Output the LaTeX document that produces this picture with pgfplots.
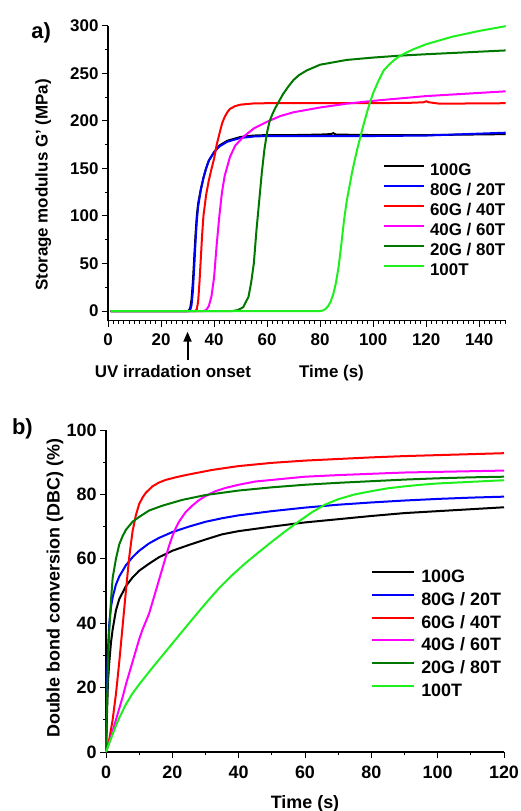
\documentclass[border=0pt]{standalone}
\usepackage{fontspec}
\setmainfont{Liberation Sans}
\usepackage{pgfplots}
\pgfplotsset{compat=1.18}
\usetikzlibrary{arrows.meta}
\definecolor{cblue}{RGB}{0,0,255}
\definecolor{cred}{RGB}{255,0,0}
\definecolor{cmag}{RGB}{255,0,255}
\definecolor{cdgreen}{RGB}{0,120,0}
\definecolor{clgreen}{RGB}{30,240,30}

\pgfplotsset{
  common/.style={
    scale only axis, clip=false,
    axis x line*=bottom, axis y line*=left,
    axis line style={line width=1.2bp},
    tick align=outside,
    major tick length=6bp, minor tick length=3bp,
    every tick/.style={line width=1bp, black},
    /pgf/number format/assume math mode=true,
    legend cell align=left,
    legend image code/.code={\draw[##1] (0bp,5.5bp) -- (40bp,5.5bp);},
    every axis plot/.append style={line width=2bp},
  },
}

\begin{document}
\begin{tikzpicture}
\path[use as bounding box] (0,0) rectangle (521bp,-811bp);

% panel a
\begin{axis}[common,
  at={(108bp,-320.7bp)}, anchor=south west,
  width=397.7bp, height=295bp,
  xmin=0, xmax=150, ymin=-10.2, ymax=300,
  xtick={0,20,...,140}, minor xtick={0,2,...,150},
  ytick={0,50,...,300}, minor ytick={25,75,...,275},
  ticklabel style={font=\fontsize{17}{19}\selectfont\bfseries},
  xticklabel style={yshift=-3bp},
  legend style={draw=none, fill=none, at={(0.691,0.5336)}, anchor=north west,
    inner sep=0pt, row sep=4bp, column sep=5bp,
    nodes={inner sep=0pt, text height=12.5bp, text depth=3.5bp},
    font=\fontsize{17}{19}\selectfont\bfseries},
]
\addplot[black] coordinates {(1,0)(29,0)(30,0)(30.5,0.5)(31,3)(31.5,12)(32,30)(32.5,55)(33,80)(33.5,100)(34,113)(35,128)(36,140)(37,150)(38,158)(40,167)(42,174)(45,179)(50,183)(55,184.5)(60,185)(70,185)(80,185.5)(84,186)(85,187)(86,185.5)(100,185)(120,185)(135,185.5)(150,186)};
\addplot[cblue] coordinates {(1,0)(30.5,0)(31,1)(31.5,6)(32,20)(32.5,45)(33,72)(33.5,95)(34,110)(35,127)(36,140)(37,150)(38,158)(40,167)(42,173)(45,178)(50,182)(55,183.5)(60,184)(80,184)(100,184)(120,184.5)(135,186)(150,187.5)};
\addplot[cred] coordinates {(1,0)(33,0)(33.5,2)(34,10)(34.5,30)(35,55)(35.5,80)(36,100)(37,122)(38,137)(39,149)(40,160)(41,175)(42,186)(43,197)(44,204)(45,209)(46,212.5)(48,215.5)(50,217)(55,218.3)(60,218.5)(80,218.5)(100,218.5)(115,219)(119,219.5)(120,220.5)(121,219.5)(125,218)(150,218.5)};
\addplot[cmag] coordinates {(1,0)(36,0)(37,1)(38,5)(39,15)(40,35)(41,70)(42,100)(43,125)(44,142)(46,162)(48,174)(51,183)(55,192)(60,199)(65,205)(70,209)(80,214)(90,218)(100,221)(120,226)(150,231)};
\addplot[cdgreen] coordinates {(1,0)(47,0)(49,1)(51,4)(53,15)(54,30)(55,50)(56,85)(57,115)(58,145)(59,170)(60,188)(61,200)(62,207)(63,213)(64,218)(65,223)(66,228)(68,236)(70,243)(72,248)(75,253)(80,259)(90,264)(100,266.5)(110,268.5)(120,270)(135,272)(150,274)};
\addplot[clgreen] coordinates {(1,0)(80,0)(81,0.5)(82,2)(83,5)(84,10)(85,18)(86,30)(87,47)(88,70)(89,95)(90,115)(91,130)(92,145)(93,158)(94,170)(95,181)(96,192)(97,202)(98,212)(99,221)(100,229)(102,242)(104,253)(106,259)(108,264)(110,268)(112,271)(115,275)(120,280.5)(125,284.5)(130,288.5)(135,291.5)(140,294.5)(145,297)(150,299.5)};
\legend{100G, 80G / 20T, 60G / 40T, 40G / 60T, 20G / 80T, 100T}
\node[font=\fontsize{17}{19}\selectfont\bfseries, anchor=base] at (axis cs:24.5,-69.4) {UV irradation onset};
\node[font=\fontsize{17}{19}\selectfont\bfseries, anchor=base] at (axis cs:84.3,-69.4) {Time (s)};
\draw[line width=2bp, -{Triangle[width=8bp,length=10bp]}] (axis cs:30,-51.5) -- (axis cs:30,-21.8);
\node[font=\fontsize{17}{19}\selectfont\bfseries, rotate=90] at (axis description cs:-0.163,0.46) {Storage modulus G' (MPa)};
\node[font=\fontsize{22}{24}\selectfont\bfseries] at (axis description cs:-0.168,0.975) {a)};
\end{axis}

% panel b
\begin{axis}[common,
  at={(106bp,-752bp)}, anchor=south west,
  width=398bp, height=322bp,
  xmin=0, xmax=120, ymin=0, ymax=100,
  xtick={0,20,...,120}, minor xtick={10,30,...,110},
  ytick={0,20,...,100}, minor ytick={10,30,...,90},
  ticklabel style={font=\fontsize{18}{20}\selectfont\bfseries},
  xticklabel style={yshift=-4bp},
  legend style={draw=none, fill=none, at={(0.666,0.567)}, anchor=north west,
    inner sep=0pt, row sep=5.7bp, column sep=6bp,
    nodes={inner sep=0pt, text height=13bp, text depth=4bp},
    font=\fontsize{18}{20}\selectfont\bfseries},
  legend image code/.code={\draw[#1] (0bp,6bp) -- (42bp,6bp);},
]
\addplot[black] coordinates {(0,0)(0.3,12)(0.6,22)(1,28)(1.5,34)(2,38)(3,44)(4,47.5)(6,51.5)(8,54.2)(10,56.3)(13,58.5)(16,60.5)(20,62.5)(25,64.3)(30,66)(35,67.6)(40,68.6)(50,70)(60,71.3)(70,72.3)(80,73.3)(90,74.2)(100,74.8)(110,75.4)(120,76)};
\addplot[cblue] coordinates {(0,0)(0.3,20)(0.6,32)(1,40)(1.5,45)(2,48)(3,52)(4,54.5)(6,58)(8,60.5)(10,62.5)(13,64.8)(16,66.5)(20,68.3)(25,70)(30,71.5)(35,72.6)(40,73.5)(50,74.8)(60,75.9)(70,76.8)(80,77.5)(90,78.1)(100,78.6)(110,79)(120,79.3)};
\addplot[cred] coordinates {(0,0)(1,4)(2,10)(3,18)(4,28)(5,39)(6,50)(7,60.5)(8,68.5)(9,73.5)(10,77)(11,79)(12,80.5)(14,82.5)(16,83.7)(18,84.5)(21,85.3)(24,86)(28,86.8)(32,87.6)(36,88.2)(40,88.8)(50,89.8)(60,90.5)(70,91)(80,91.5)(90,91.9)(100,92.2)(110,92.5)(120,92.8)};
\addplot[cmag] coordinates {(0,0)(1,3)(2,6.5)(3,10)(4,13.5)(5,17)(6,21)(7,24.5)(8,28)(9,31.5)(10,35)(11,38)(12,40.5)(13,43)(14,46.5)(15,50)(16,53.5)(17,57)(18,60.5)(19,64)(20,67)(21,69.5)(22,71.5)(23,73)(24,74.5)(26,76.5)(28,78.2)(30,79.5)(33,81)(36,82)(40,83)(45,84)(50,84.5)(55,85)(60,85.5)(70,86)(80,86.4)(90,86.8)(100,87)(110,87.2)(120,87.4)};
\addplot[cdgreen] coordinates {(0,0)(0.3,15)(0.6,28)(1,38)(1.5,47)(2,54)(3,60)(4,64.5)(5,67)(6,69)(8,71.5)(10,73)(13,75)(17,76.5)(23,78.3)(30,79.8)(40,81.2)(50,82.2)(60,83)(70,83.6)(80,84.1)(90,84.6)(100,85)(110,85.3)(120,85.5)};
\addplot[clgreen] coordinates {(0,0)(1,2.8)(2,5.5)(3,8.2)(4,10.6)(6,14.8)(8,18.2)(10,21)(14,26.2)(18,31.2)(22,36.2)(26,41.2)(30,46.1)(34,50.8)(38,54.9)(42,58.6)(46,62)(50,65.3)(54,68.5)(58,71.5)(62,74.4)(66,76.8)(70,78.5)(75,80)(80,81)(85,81.9)(90,82.5)(95,83)(100,83.4)(110,83.9)(120,84.4)};
\legend{100G, 80G / 20T, 60G / 40T, 40G / 60T, 20G / 80T, 100T}
\node[font=\fontsize{18}{20}\selectfont\bfseries, anchor=base] at (axis cs:60,-17.4) {Time (s)};
\node[font=\fontsize{18}{20}\selectfont\bfseries, rotate=90] at (axis description cs:-0.128,0.508) {Double bond conversion (DBC) (\%)};
\node[font=\fontsize{22}{24}\selectfont\bfseries] at (axis description cs:-0.21,1.005) {b)};
\end{axis}
\end{tikzpicture}
\end{document}
